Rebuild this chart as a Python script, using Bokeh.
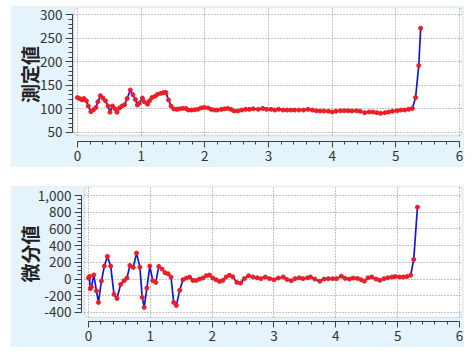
from bokeh.plotting import figure
from bokeh.models import BoxAnnotation, SingleIntervalTicker, NumeralTickFormatter, Range1d
from bokeh.layouts import column, row
from bokeh.embed import file_html
from bokeh.resources import INLINE

# ---- data ----
meas_x = [0, 0.03, 0.07, 0.10, 0.14, 0.17, 0.21, 0.25, 0.29, 0.32,
          0.36, 0.40, 0.44, 0.48, 0.51, 0.55, 0.59, 0.62, 0.66, 0.70,
          0.74, 0.78, 0.83, 0.87, 0.91, 0.94, 0.97, 1.02, 1.05, 1.10,
          1.13, 1.17, 1.22, 1.26, 1.31, 1.35, 1.39, 1.43, 1.47, 1.51,
          1.56, 1.60, 1.65, 1.70, 1.74, 1.79, 1.84, 1.89, 1.94, 1.99,
          2.05, 2.10, 2.15, 2.20, 2.26, 2.31, 2.36, 2.41, 2.46, 2.52,
          2.58, 2.64, 2.70, 2.76, 2.84, 2.91, 2.97, 3.04, 3.10, 3.16,
          3.23, 3.29, 3.35, 3.41, 3.48, 3.55, 3.62, 3.69, 3.75, 3.81,
          3.87, 3.94, 4.00, 4.06, 4.13, 4.19, 4.25, 4.31, 4.38, 4.44,
          4.51, 4.58, 4.64, 4.70, 4.76, 4.83, 4.89, 4.95, 5.02, 5.08,
          5.14, 5.20, 5.26, 5.31, 5.36, 5.39]
meas_y = [124, 122, 119, 122, 117, 106, 94, 98, 103, 115,
          128, 123, 117, 106, 93, 106, 100, 93, 102, 106,
          109, 122, 140, 130, 120, 108, 112, 123, 115, 110,
          117, 124, 127, 131, 133, 134.5, 134.5, 119, 106, 100,
          99, 100, 101, 101, 97.5, 97.5, 98, 99, 102, 103,
          102, 99, 97.5, 97.5, 99, 100, 101, 99, 95.5, 95.5,
          97.5, 99, 99, 100, 99, 101, 99, 99, 97.5, 99,
          97.5, 97.5, 97.5, 97.5, 97.5, 97.5, 99, 97.5, 96, 95.5,
          95.5, 95, 93.5, 95, 96, 96, 96, 95.5, 96, 95,
          92, 93.5, 93.5, 92, 90.5, 92, 93.5, 95, 96, 97.5,
          97.5, 99, 101, 124, 192, 271]

diff_x = [0, 0.016, 0.027, 0.048, 0.086, 0.129, 0.161, 0.209, 0.257, 0.306,
          0.359, 0.413, 0.461, 0.520, 0.574, 0.622, 0.670, 0.724, 0.777, 0.831,
          0.869, 0.901, 0.944, 0.992, 1.040, 1.088, 1.137, 1.190, 1.239, 1.287,
          1.335, 1.378, 1.421, 1.475, 1.528, 1.582, 1.635, 1.689, 1.743, 1.796,
          1.850, 1.904, 1.957, 2.011, 2.064, 2.118, 2.172, 2.225, 2.279, 2.332,
          2.40, 2.46, 2.52, 2.59, 2.66, 2.73, 2.79, 2.86, 2.93, 3.00,
          3.07, 3.15, 3.21, 3.28, 3.34, 3.41, 3.47, 3.54, 3.59, 3.66,
          3.74, 3.81, 3.88, 3.95, 4.01, 4.09, 4.15, 4.22, 4.28, 4.35,
          4.41, 4.46, 4.52, 4.58, 4.65, 4.71, 4.78, 4.84, 4.91, 4.96,
          5.03, 5.09, 5.15, 5.21, 5.26, 5.32]
diff_y = [12, 32, -115, -95, 50, -143, -279, -24, 155, 271,
          155, -183, -231, -64, -20, 12, 163, 139, 311, 143,
          -219, -339, -108, 155, -20, -40, 151, 120, 76, 64,
          24, -279, -315, -135, -8, 12, 24, -16, -16, 0,
          12, 40, 48, 12, -8, -28, -16, 24, 45, 28,
          -40, -48, 5, 40, 25, 15, 5, 25, 5, -8,
          12, 25, -5, -20, 5, 15, 5, 15, 25, 0,
          -25, 0, 5, 5, 5, 35, 8, 0, 12, 8,
          -8, -25, 15, 25, 0, -15, 5, 15, 25, 30,
          25, 25, 30, 45, 235, 860]

top_label = "測定値"
bottom_label = "微分値"
x_ticks = (0, 6)
top_ticks = (50, 300)
bottom_ticks = (-400, 1000)

BG = "#e5f3fc"
FONT = "Noto Sans CJK JP"
LINE = "#1414e6"
DOT = "#ee1c24"


def make(xr, yr, min_left, min_top, white_left, white_bottom, ybounds, yint, yminor,
         label, label_standoff, fmt=None):
    p = figure(width=454, height=162, x_range=Range1d(*xr), y_range=Range1d(*yr),
               output_backend="svg", toolbar_location=None,
               min_border_left=min_left, min_border_right=2, min_border_top=min_top,
               min_border_bottom=26,
               background_fill_color=BG, border_fill_color=BG, outline_line_color=None)
    box = BoxAnnotation(left=white_left, bottom=white_bottom, fill_color="white", fill_alpha=1,
                        line_color="#a8a8a8", line_width=1.5, border_radius=5, level="image")
    p.add_layout(box)
    p.xaxis.ticker = SingleIntervalTicker(interval=1, num_minor_ticks=5)
    p.xaxis.bounds = x_ticks
    p.yaxis.ticker = SingleIntervalTicker(interval=yint, num_minor_ticks=yminor)
    p.yaxis.bounds = ybounds
    if fmt is not None:
        p.yaxis.formatter = fmt
    for ax in (p.xaxis, p.yaxis):
        ax.axis_line_color = "#404040"
        ax.major_tick_line_color = "#404040"
        ax.minor_tick_line_color = "#404040"
        ax.major_tick_in = 0
        ax.minor_tick_in = 0
        ax.major_label_text_font = FONT
        ax.major_label_text_font_size = "13.5px"
        ax.major_label_text_color = "#333333"
        ax.major_label_standoff = 3
    p.xaxis.major_tick_out = 6
    p.xaxis.minor_tick_out = 3
    p.yaxis.major_tick_out = 7
    p.yaxis.minor_tick_out = 4
    p.yaxis.axis_label = label
    p.yaxis.axis_label_text_font = FONT
    p.yaxis.axis_label_text_font_style = "bold"
    p.yaxis.axis_label_text_font_size = "19px"
    p.yaxis.axis_label_text_color = "#222222"
    p.yaxis.axis_label_standoff = label_standoff
    for g in (p.xgrid, p.ygrid):
        g.grid_line_color = "#8a8a8a"
        g.grid_line_dash = "1 2"
        g.grid_line_width = 1
    p.xgrid.cross_bounds = (white_bottom, yr[1])
    p.ygrid.cross_bounds = (white_left, xr[1])
    return p


p1 = make((-0.0785, 6.047), (30.8, 315), 62, 2, -0.058, 43.6, top_ticks, 50, 5,
          top_label, -6)
p1.line(meas_x, meas_y, line_color=LINE, line_width=1.7)
p1.scatter(meas_x, meas_y, size=4, color=DOT)

p2 = make((-0.113, 6.0485), (-507.7, 1107.7), 71, 1, -0.0645, -459.8, bottom_ticks, 200, 4,
          bottom_label, -8, NumeralTickFormatter(format="0,0"))
p2.line(diff_x, diff_y, line_color=LINE, line_width=1.7)
p2.scatter(diff_x, diff_y, size=4, color=DOT)

layout = column(row(p1), row(p2), spacing=18, margin=(5, 0, 0, 10))
open("out.html", "w").write(file_html(layout, INLINE))
